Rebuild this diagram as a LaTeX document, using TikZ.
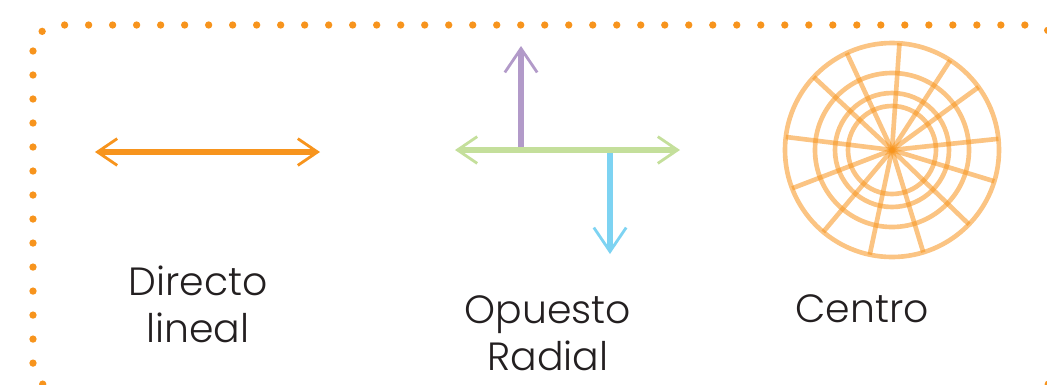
\documentclass[tikz,border=0pt]{standalone}
\usepackage{fontspec}
\setmainfont{Poppins}[UprightFont=* Light]
\usetikzlibrary{arrows.meta}
\definecolor{naranja}{RGB}{247,148,29}
\definecolor{verde}{RGB}{196,223,155}
\definecolor{morado}{RGB}{178,154,201}
\definecolor{celeste}{RGB}{125,211,242}
\definecolor{texto}{RGB}{35,31,32}
\tikzset{
  punta/.tip={Straight Barb[length=14pt,width=19pt,line width=2pt]},
  puntag/.tip={Straight Barb[length=17pt,width=23pt,line width=2pt]},
  flecha/.style={line width=3.6pt},
  rueda/.style={draw=naranja,opacity=0.55,line width=3.3pt},
  etiqueta/.style={align=center,anchor=base,inner sep=0pt,text=texto,
    font=\fontsize{28}{33}\selectfont}
}

\begin{document}
\begin{tikzpicture}[x=0.025cm,y=-0.025cm]
\useasboundingbox (0,0) rectangle (1047,384);
\clip (0,0) rectangle (1047,384);

% borde punteado
\draw[naranja,line width=5.2pt,line cap=round,dash pattern=on 0pt off 0.6cm,
  rounded corners=0.65cm] (33,25) rectangle (1058,390);

% directo lineal
\draw[flecha,naranja,{punta}-{punta}] (95,152) -- (320,152);

% opuesto radial
\draw[flecha,morado,-{puntag}] (521,150) -- (521,46);
\draw[flecha,celeste,-{puntag}] (610,150) -- (610,254);
\draw[flecha,verde,{punta}-{punta}] (455,150) -- (680,150);

% centro
\foreach \r in {107,77,57,44}{
\draw[rueda] (892,150) circle (\r);
}
\foreach \a in {-86,-57,-36,-6,17,44,73,102,130,159,-173,-137,-115}{
\draw[rueda] (892,150) -- ++(\a:107);
}

% la base es la de la ultima linea
\node[etiqueta] (directo) at (198,342) {Directo\\lineal};
\node[etiqueta] (opuesto) at (548,370) {Opuesto\\Radial};
\node[etiqueta] (centro) at (862,322) {Centro};
\end{tikzpicture}
\end{document}
